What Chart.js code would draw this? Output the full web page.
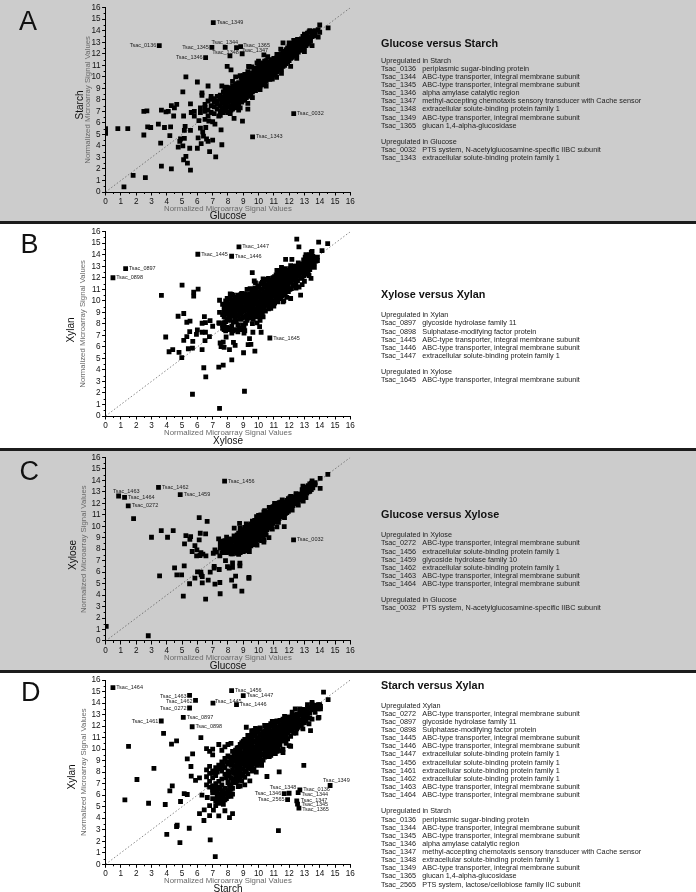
<!DOCTYPE html>
<html><head><meta charset="utf-8">
<script src="https://cdn.jsdelivr.net/npm/chart.js@4"></script>
<style>
html,body{margin:0;padding:0;background:#1c1c1c;width:696px;height:892px;overflow:hidden;font-family:"Liberation Sans",Arial,sans-serif}
.panel{position:absolute;left:0;width:696px}
.panel canvas{position:absolute;left:0;top:0;filter:blur(.35px)}
.t{position:absolute;white-space:nowrap;color:#222}
.letter{position:absolute;font-size:27px;line-height:27px;color:#111}
.big{position:absolute;font-size:10px;line-height:10px;color:#111;white-space:nowrap;transform:translate(-50%,-50%)}
.rot{transform:translate(-50%,-50%) rotate(-90deg)}
.head{font-size:10.8px;font-weight:bold;color:#111;line-height:12px}
.row{font-size:7.25px;line-height:8px}
</style></head><body>
<script>
/* ---------- gene-labelled points ---------- */
const genesA=["Tsac_1349","Tsac_0136","Tsac_1345","Tsac_1344","Tsac_1365","Tsac_1347","Tsac_1348","Tsac_1346","Tsac_0032","Tsac_1343"];
const geneXA=[7.04,3.51,6.95,7.82,8.83,8.93,8.13,6.54,12.3,9.61];
const geneYA=[14.7,12.7,12.56,12.56,12.62,12.0,11.81,11.66,6.81,4.78];
const genesB=["Tsac_1447","Tsac_1445","Tsac_1446","Tsac_0897","Tsac_0898","Tsac_1645"];
const geneXB=[8.72,6.03,8.24,1.31,0.48,10.74];
const geneYB=[14.68,14.04,13.87,12.79,12.0,6.77];
const genesC=["Tsac_1456","Tsac_1462","Tsac_1459","Tsac_1463","Tsac_1464","Tsac_0272","Tsac_0032"];
const geneXC=[7.78,3.46,4.88,0.85,1.24,1.48,12.29];
const geneYC=[13.94,13.39,12.75,12.64,12.52,11.77,8.81];
const genesD=["Tsac_1464","Tsac_1456","Tsac_1447","Tsac_1463","Tsac_1462","Tsac_1445","Tsac_1446","Tsac_0272","Tsac_0897","Tsac_1461","Tsac_0898","Tsac_1349","Tsac_0136","Tsac_1348","Tsac_1346","Tsac_1344","Tsac_2565","Tsac_1347","Tsac_1345","Tsac_1365"];
const geneXD=[0.48,8.24,9.0,5.49,5.88,7.02,8.56,5.49,5.08,3.64,5.66,14.68,12.7,12.0,11.68,12.59,11.9,12.5,12.55,12.64];
const geneYD=[15.33,15.07,14.64,14.67,14.23,14.0,13.86,13.57,12.75,12.44,11.94,6.84,6.46,6.17,6.14,6.23,5.62,5.5,5.22,4.87];

/* ---------- scattered points [x,y] ---------- */
const scatterA=[[0,5.5],[0,5.1],[.8,5.5],[1.45,5.5],[2.5,4.95],[2.5,7],[2.7,7.05],[2.75,5.65],[2.95,5.6],[3.45,5.9],[3.6,4.25],[3.65,7.1],[3.65,2.25],[3.85,5.6],[3.95,6.95],[4.1,7],[4.2,4.9],[4.25,5.65],[4.3,2],[4.3,7.5],[4.45,6.6],[4.5,7.3],[4.65,7.6],[4.75,3.9],[4.85,4.4],[4.9,4.6],[5.05,4],[5.05,8.7],[5.1,6.6],[5.1,2.8],[5.15,5.35],[5.15,4.65],[5.2,5.7],[5.25,10],[5.25,3.1],[5.35,2.5],[5.5,3.8],[5.55,1.9],[5.55,5.35],[5.55,7.65],[1.2,.45],[1.8,1.45],[2.6,1.25],[5.6,6.9],[5.8,6.6],[5.8,7],[6,3.8],[6.05,4.7],[6,9.55],[6.1,6.2],[6.2,5.55],[6.25,4.2],[6.3,8.6],[6.3,8.4],[6.35,5.2],[6.4,4.85],[6.5,6.3],[6.55,5.6],[6.6,4.6],[6.7,4.4],[6.7,9.2],[6.8,3.5],[6.75,6.15],[7,6.1],[7,4.5],[7.15,5.9],[7.2,3.05],[7.6,4.1],[7.55,5.4],[7.4,6.6],[7.6,9.2],[7.95,10.9],[8.2,10.6],[8.5,10],[8.8,10.1],[8.56,12.54],[8.95,6.15],[9.3,7.2],[9.35,10.9],[9.9,11.2],[10.35,11.9],[11.6,12.95],[12.1,10.9],[12.3,13.15],[13.5,12.7],[14.55,14.25],[8.4,6.4],[8.15,6.8]];
const bandA=[[6.2,6.9,7.3],[6.5,7,7.35,7.6],[6.7,6.6,7.1,7.9],[6.9,6.9,7.5,8.05,8.3],[7.1,6.8,7.4,7.8,8.1],[7.3,7.2,7.6,8.3,7.9],[7.5,6.65,7,7.5,8.05,8.4],[7.7,6.9,7.3,7.7,8.2,8.7],[7.9,7.2,7.6,8,8.45,8.8,9.1],[8.1,7.4,7.9,8.3,8.7,9],[8.3,7.2,7.6,8,8.4,8.8,9.2],[8.5,7.3,7.7,8.1,8.5,8.9,9.3],[8.7,7.1,7.6,8,8.4,8.8,9.2,9.5],[8.9,7.8,8.2,8.5,8.9,9.3,9.7],[9.1,8,8.4,8.7,9.1,9.5,9.9,10.2],[9.3,7.7,8.3,8.6,9,9.3,9.6,10],[9.5,8.5,8.9,9.2,9.5,9.8,10.1],[9.7,9,9.3,9.6,9.9,10.2,10.5],[9.9,9.1,9.4,9.7,10,10.3,10.6],[10.1,9.2,9.5,9.8,10.1,10.4,10.7,11],[10.3,9.4,9.7,10,10.3,10.6,10.9,11.2],[10.5,9.6,9.9,10.2,10.5,10.8,11.1,11.4],[10.7,9.9,10.2,10.5,10.8,11.1,11.3],[10.9,9.8,10.4,10.7,11,11.3,11.5],[11.1,10.2,10.6,10.9,11.2,11.5],[11.3,10.6,10.9,11.2,11.5,11.8],[11.5,10.7,11.1,11.4,11.7,12],[11.7,11,11.3,11.6,11.9,12.2],[11.9,11.3,11.6,11.9,12.2,12.5],[12.1,11.6,11.9,12.2,12.5],[12.3,11.8,12.1,12.4],[12.5,12,12.3,12.6],[12.7,12.3,12.6,12.9,13.1],[12.9,12.5,12.8,13.2,13.5],[13.1,12.7,13,13.3,13.6],[13.3,13,13.3,13.9],[13.5,13.5,13.9],[13.7,13.7,14],[13.9,14.1],[14,13.85,14.5]];
const extraA=[[7.6,7.2,7.85,8.25],[7.8,7.05,7.5,8.05,8.5,8.9],[8,6.9,7.4,7.8,8.25,8.6,9.05],[8.2,7.1,7.5,8.15,8.55,8.95],[8.4,7.45,7.85,8.25,8.65,9.05],[8.6,7.5,7.9,8.3,8.7,9.1,9.4],[8.8,7.3,7.85,8.25,8.65,9,9.4],[9,7.95,8.3,8.65,9,9.4,9.8,10.1],[9.2,8.2,8.5,8.85,9.2,9.55,9.95],[9.4,8.4,8.75,9.1,9.45,9.75,10.1],[9.6,8.7,9.05,9.4,9.7,10,10.35],[9.8,8.8,9.15,9.5,9.8,10.1,10.4,10.75],[10,9,9.3,9.6,9.9,10.2,10.5,10.85],[10.2,9.3,9.6,9.95,10.25,10.55,10.85,11.15],[10.4,9.5,9.85,10.15,10.45,10.75,11.05,11.35],[10.6,9.8,10.05,10.35,10.65,10.95,11.25],[10.8,10,10.3,10.6,10.9,11.2,11.45],[11,10.15,10.5,10.8,11.1,11.4,11.6],[11.2,10.4,10.75,11.05,11.35,11.65],[11.4,10.65,11,11.3,11.6,11.9],[11.6,10.9,11.2,11.5,11.8,12.1],[11.8,11.15,11.45,11.75,12.05,12.35],[12,11.4,11.75,12.05,12.35,12.65],[12.2,11.7,12,12.3,12.6,12.9],[12.4,11.95,12.25,12.55,12.8],[12.6,12.15,12.45,12.75,13],[12.8,12.4,12.7,13,13.3],[13,12.6,12.95,13.25,13.55],[13.2,12.85,13.15,13.45,13.8],[13.4,13.1,13.45,13.95],[13.6,13.55,13.85]];
const edgeA=[[8.3,9.6],[8.85,9.95],[9.3,10.45],[9.55,10.85],[10,11.35],[10.6,11.75],[11.2,11.95],[11.45,12.4],[12,12.95],[12.55,13.25],[13,13.7],[13.35,14],[9.6,8.2],[10.1,8.9],[10.5,9.2],[10.74,9.78],[11.18,9.95],[11.5,10.3],[12.5,11.6],[13,12.2],[13.9,13.45],[9.39,10.88]];

const scatterB=[[3.65,10.47],[3.93,6.86],[4.15,5.58],[4.39,5.76],[4.74,8.66],[4.8,5.52],[4.98,5.06],[5,11.37],[5.11,8.9],[5.11,6.57],[5.31,6.89],[5.31,8.14],[5.52,8.23],[5.5,7.33],[5.41,5.84],[5.68,5.9],[5.7,6.48],[5.76,10.76],[5.76,10.41],[6.05,11.02],[5.94,7.09],[6,7.47],[6.31,8.05],[6.31,7.27],[6.31,5.76],[6.46,8.63],[6.53,8.11],[6.53,7.27],[6.5,6.54],[6.83,8.28],[6.79,6.89],[7,7.79],[6.42,4.19],[6.55,3.4],[5.68,1.89],[7.4,4.24],[7.69,4.42],[8.25,4.88],[7.45,.67],[9.08,2.15],[9.02,5.49],[9.76,5.64],[7.4,8.08],[7.49,6.34],[7.69,6.42],[7.55,6.02],[7.75,5.96],[8.1,5.76],[7.88,6.86],[8.36,6.4],[8.47,6.13],[9.32,6.19],[9.5,6.22],[9.41,6.71],[9.6,8.02],[9.9,8.08],[9.63,7.27],[10.17,7.27],[10.07,7.76],[9.59,12.44],[9.72,11.72],[12.5,15.35],[12.64,14.68],[13.93,15.09],[14.52,14.97],[14.15,14.36],[11.77,13.6],[12.18,13.6],[13.43,11.95],[12.75,10.49]];
const bandB=[[7.45,10.05,9,8.05],[7.65,8.8,9.7,7.6,7.9],[7.85,7.4,8.2,8.9,9.4,10],[8.05,7.5,8.6,9.1,9.6,10.2],[8.25,7.2,7.8,8.8,9.3,9.8,10.55],[8.45,7.5,8.5,9,9.5,10,10.3],[8.65,7.3,7.9,8.7,9.2,9.7,10.1,10.5],[8.85,7.5,8.4,8.9,9.3,9.7,10.2,10.55],[9.05,7.2,7.7,8.6,9.1,9.5,9.9,10.3,10.6],[9.25,8.3,8.8,9.2,9.6,10,10.4,11],[9.45,8.7,9,9.4,9.8,10.2,10.6],[9.65,8.4,9.1,9.5,9.9,10.3,10.7,11],[9.85,8.6,9.3,9.7,10.1,10.5,10.9],[10.05,8.6,9,9.5,9.9,10.3,10.7,11.2],[10.25,8.9,9.4,9.8,10.2,10.6,11,11.6],[10.45,9.1,9.6,10,10.4,10.8,11.3,11.85],[10.65,9.3,9.9,10.3,10.7,11.1,11.5],[10.85,9.7,10.2,10.6,11,11.4,11.8],[11.05,9.8,10.4,10.8,11.2,11.6,12.1],[11.25,9.9,10.5,11,11.4,11.8,12.3],[11.45,10.2,10.8,11.2,11.6,12,12.6],[11.65,10,10.9,11.4,11.8,12.2,12.7],[11.85,10.3,11.1,11.5,11.9,12.3],[12.05,11,11.7,12.1,12.5,12.8],[12.25,11.3,11.9,12.3,12.7],[12.45,11.5,12,12.4,12.8,13],[12.65,11.2,12.2,12.6,13.1],[12.85,12,12.5,12.9,13.2],[13.05,12.3,12.8,13.3,13.8],[13.25,12.5,13,13.5],[13.45,13,13.5,14,14.2],[13.65,13.3,13.7],[13.85,13.5,13.8]];
const extraB=[[7.75,7.5,8.1,8.6,9.1,9.5],[7.95,7.7,8.45,9,9.45,9.8,10.2],[8.15,7.6,8.3,8.85,9.35,9.75,10.15],[8.35,7.4,8.15,8.7,9.15,9.6,10.1,10.5],[8.55,8.2,8.75,9.25,9.75,10.2],[8.75,7.6,8.45,8.95,9.45,9.9,10.35],[8.95,7.9,8.5,9.05,9.5,10,10.4],[9.15,8.05,8.65,9.25,9.75,10.2,10.6],[9.35,8.5,9.1,9.6,10.05,10.5],[9.55,8.75,9.25,9.7,10.1,10.55,10.95],[9.75,8.9,9.3,9.75,10.2,10.6,11.1],[9.95,8.85,9.4,9.85,10.3,10.8,11.3],[10.15,9.25,9.65,10.1,10.55,11,11.5],[10.35,9.4,9.85,10.3,10.75,11.2,11.6],[10.55,9.65,10.1,10.55,10.95,11.4,11.85],[10.75,9.55,10.1,10.5,10.9,11.3,11.7],[10.95,9.95,10.4,10.8,11.2,11.6,12],[11.15,10.1,10.6,11,11.45,11.85,12.25],[11.35,10.25,10.75,11.2,11.65,12.05,12.5],[11.55,10.45,11,11.45,11.9,12.3,12.75],[11.75,10.55,11.2,11.65,12.05,12.5,12.8],[11.95,10.8,11.4,11.85,12.25,12.65],[12.15,11.05,11.6,12,12.4,12.75],[12.35,11.4,11.85,12.25,12.65,13],[12.55,11.75,12.15,12.55,12.95],[12.75,11.95,12.4,12.8,13.15],[12.95,12.2,12.65,13.05,13.55],[13.15,12.4,12.85,13.3,13.7],[13.35,12.7,13.2,13.7,14],[13.55,13.15,13.55,13.85],[13.75,13.45,13.65]];
const edgeB=[[8.15,10.6],[8.9,10.65],[9.45,11.05],[9.8,11.55],[10.3,11.9],[10.65,11.95],[11.2,12.65],[11.5,12.9],[12.1,13.05],[12.6,13.3],[13.1,14],[13.5,14.3],[9.1,7.4],[10.1,8.3],[10.3,8.6],[10.8,9.35],[11,9.55],[11.6,9.9],[12.1,10.2],[12.45,11.1],[13,11.7],[13.3,12.2],[12.85,11.4],[13.65,12.9]];

const scatterC=[[.04,1.27],[2.79,.46],[1.83,10.67],[3,9.04],[3.64,9.62],[4.05,9.04],[4.42,9.62],[5.25,9.19],[5.56,9.1],[5.51,8.87],[5.16,8.46],[5.84,8.32],[6.12,8.81],[6.19,9.39],[6.54,9.33],[6.12,10.75],[6.64,10.43],[5.66,7.8],[5.97,7.94],[5.95,7.42],[6.17,7.45],[6.23,7.71],[6.36,7.57],[6.56,7.42],[3.53,5.68],[4.51,6.38],[4.66,5.77],[4.97,5.77],[5.14,6.55],[5.08,3.91],[5.49,4.99],[5.84,5.48],[6.01,6.03],[6.23,6],[6.25,5.77],[6.32,5.62],[6.32,5.07],[6.54,3.65],[6.71,5.3],[6.84,6],[7.1,6.35],[7.1,6.5],[7.15,4.96],[7.43,6.23],[7.47,5.1],[7.49,4.12],[8.24,5.3],[8.45,4.78],[8.5,5.65],[8.91,4.35],[9.37,5.45],[9.37,5.55],[7.97,6.49],[8.08,6.35],[8.3,6.81],[8.3,6.43],[8.78,6.78],[8.78,6.55],[7.84,7.01],[7.04,7.65],[7.25,7.74],[7.15,7.94],[7.47,7.42],[7.39,8.9],[7.91,9.04],[8.24,8.84],[8.41,9.83],[8.76,10.26],[9.87,10.84],[11.68,9.97],[11.2,9.94],[10.68,9.01],[10.35,8.61],[10.35,8.81],[10.3,9.19],[12.92,12.2],[14.03,13.3],[14.03,14.17],[14.53,14.52]];
const bandC=[[7.5,8.5,8.1],[7.7,7.9,8.3,8.6],[7.9,7.7,8,8.4],[8.1,7.75,8.05,8.5,8.9],[8.3,7.6,7.95,8.3],[8.5,7.8,8.2,8.6,9.05],[8.7,7.55,7.9,8.3,8.7,9.4],[8.85,8,8.4,8.8,9.2,9.7],[9,7.8,8.2,8.6,9,9.4],[9.2,7.85,8.3,8.7,9.05,9.45,9.8],[9.4,8.2,8.6,9,9.4,9.8,10.1],[9.55,8.5,8.9,9.25,9.6,10],[9.75,8.4,8.8,9.15,9.5,9.85,10.2,10.5],[9.95,8.8,9.2,9.55,9.9,10.25,10.6],[10.15,9.3,9.65,10,10.35,10.7,11],[10.35,9.5,9.85,10.2,10.55,10.9,11.25],[10.55,9.7,10.05,10.4,10.75,11.05],[10.75,10,10.3,10.65,11,11.4],[10.95,10.25,10.6,10.95,11.3,11.7],[11.15,10.6,10.9,11.25,11.55,11.9],[11.35,10.7,11.05,11.4,11.75,12.05],[11.55,10.9,11.25,11.6,11.9,12.1],[11.75,11.1,11.45,11.8,12.1],[11.95,11.3,11.65,12,12.4],[12.15,11.7,12.05,12.4],[12.35,11.95,12.25,12.55],[12.55,12.15,12.5,12.75],[12.75,12.35,12.6],[12.95,12.7,13,13.3],[13.15,12.9,13.2,13.4],[13.35,13.05,13.3,13.7],[13.55,13.35,13.7],[13.7,13.6,13.8]];
const extraC=[[7.6,7.7,8.25,8.7],[7.8,7.75,8.2,8.75],[8,7.85,8.25,8.65],[8.2,7.6,8.1,8.6],[8.4,7.9,8.3,8.75,9.15],[8.6,7.65,8.05,8.45,8.85,9.25],[8.8,7.7,8.1,8.5,8.95,9.5],[8.95,7.9,8.35,8.75,9.15,9.55],[9.1,7.9,8.3,8.7,9.1,9.5,9.9],[9.3,8.1,8.5,8.9,9.3,9.7,10],[9.5,8.3,8.7,9.1,9.5,9.9,10.2],[9.65,8.45,8.85,9.25,9.65,10.05,10.35],[9.85,8.6,9,9.35,9.7,10.05,10.4],[10.05,9,9.4,9.75,10.1,10.45,10.8],[10.25,9.15,9.55,9.9,10.25,10.6,10.95],[10.45,9.6,9.95,10.3,10.65,11,11.2],[10.65,9.85,10.2,10.55,10.85,11.2],[10.85,10.1,10.45,10.8,11.15,11.55],[11.05,10.4,10.75,11.1,11.45,11.8],[11.25,10.65,11,11.35,11.65,11.95],[11.45,10.85,11.15,11.5,11.85,12.1],[11.65,11,11.35,11.7,12],[11.85,11.2,11.55,11.9,12.25],[12.05,11.45,11.8,12.15,12.5],[12.25,11.8,12.15,12.45],[12.45,12.05,12.35,12.65],[12.65,12.25,12.55,12.8],[12.85,12.5,12.85,13.2],[13.05,12.8,13.1,13.35],[13.25,13,13.25,13.55],[13.45,13.2,13.5,13.75]];
const edgeC=[[8.8,9.85],[9.2,10.2],[9.6,10.45],[10,10.95],[10.4,11.35],[10.7,11.65],[11.05,12],[11.55,12.3],[12.1,12.6],[12.45,12.85],[12.9,13.5],[13.5,13.95],[9.4,7.8],[9.9,8.35],[10.2,8.75],[10.5,9.25],[10.9,9.75],[11.3,10.35],[11.7,10.75],[12.2,11.4],[12.6,11.85],[13.1,12.5]];

const scatterD=[[1.5,10.23],[1.26,5.6],[2.05,7.36],[2.81,5.3],[3.16,8.32],[3.79,11.36],[4.31,10.43],[4.64,10.72],[3.9,5.19],[4.2,6.38],[4.36,6.81],[4,2.6],[4.68,3.39],[4.64,3.28],[4.86,1.88],[5.47,3.13],[4.9,5.45],[5.14,6.14],[5.34,6.06],[5.34,9.16],[5.58,8.49],[5.69,9.59],[6.23,10.99],[5.6,7.65],[5.88,7.28],[6.14,7.5],[6.3,6],[6.45,4.72],[6.43,3.8],[6.14,4.4],[6.8,4.23],[6.84,2.12],[7.17,.67],[11.3,2.93],[12.96,8.58],[11.35,8.03],[10.55,7.62],[9.85,8],[9.1,6.9],[9.43,7.25],[8.67,6.75],[6.65,5.8],[6.8,5.1],[7.05,4.7],[7.4,4.2],[7.8,4.65],[8.1,4.05],[8.3,4.4],[14.25,14.95],[14.55,14.3],[13.4,11.6],[9.2,11.9]];
const bandD=[[6.6,10.05,8.2,7.6,6.9],[6.8,9.8,8.5,7.9,7.2,6.7],[7,9.5,10,8.1,7.5,6.6,6.2,5.7],[7.2,8.4,7.7,7,6.4,5.5,5.1],[7.4,10.4,8.6,7.2,6.7,6.1,5.7,5.3],[7.6,9.9,8.9,8.1,7.4,6.9,6.4,5.9,5.4],[7.8,10.2,9.2,8.4,7.8,6.6,6.1,5.6],[8,10.4,9.4,8.7,8.1,7.7,7.1,6.4,5.9],[8.2,10.5,9.1,8.6,8,7.5,6.9,6.5,5.9],[8.4,9.6,9.1,8.5,7.9,7.4],[8.6,10.1,9.7,9.2,8.7,8.2,7.7,7.2],[8.8,10.4,9.9,9.4,9,8.5,8,7.5,6.8],[9,10.7,10.2,9.7,9.3,8.8,8.3,7.8],[9.2,10.5,10.1,9.6,9.1,8.6,8.1],[9.4,11,10.5,10,9.6,9.1,8.7],[9.6,11.4,10.9,10.4,10,9.5,9,8.5],[9.8,11.8,11.2,10.7,10.2,9.8,9.3,8.9],[10,11.7,11,10.6,10.1,9.6,9.2,8.7],[10.2,11.2,10.8,10.4,10,9.5,9],[10.4,11.6,11.1,10.7,10.3,9.8,9.3],[10.6,11.9,11.4,11,10.5,10.1,9.6],[10.8,12.2,11.6,11.2,10.8,10.4,9.9],[11,12.4,11.8,11.4,11,10.5,10.1],[11.2,11.9,11.5,11.2,10.7,10.2,9.8],[11.4,12.5,12,11.7,11.3,10.9,10.4],[11.6,12.6,12.2,11.9,11.5,11,10],[11.8,12.7,12.3,11.9,11.5,11.1,10.5],[12,12.8,12.4,12,11.6,10.3],[12.2,12.9,12.5,12.1,11.7],[12.4,13.5,12.9,12.4,12.1],[12.6,12.8,12.4,11.9],[12.8,13.4,13,12.5,12.1],[13,13.1,12.7,12.3],[13.2,13.6,13.2,12.8],[13.5,13.9,13.4,12.6],[13.7,13.7,13.2],[13.9,13.85,13.5,12.7],[14.05,13.7,13.5]];
const extraD=[[8.5,7.1,7.55,8.05,8.55,9,9.45,9.9],[8.7,7.3,7.75,8.25,8.75,9.25,9.7,10.15],[8.9,7.25,7.7,8.25,8.75,9.15,9.6,10.15,10.55],[9.1,7.55,8.05,8.55,9,9.45,9.9,10.4,10.85],[9.3,7.85,8.35,8.85,9.35,9.85,10.3,10.75],[9.5,8.3,8.8,9.3,9.8,10.25,10.7,11.2],[9.7,8.25,8.75,9.25,9.7,10.15,10.65,11.15,11.6],[9.9,8.6,9.05,9.5,9.95,10.45,10.95,11.45],[10.1,8.85,9.4,9.85,10.35,10.8,11.3,11.75],[10.3,9.05,9.55,10.05,10.55,11,11.45],[10.5,9.45,9.95,10.35,10.8,11.25,11.7],[10.7,9.35,9.8,10.25,10.7,11.15,11.65,12.05],[10.9,9.6,10.1,10.6,11.1,11.55,12],[11.1,9.85,10.3,10.75,11.25,11.7,12.2],[11.3,10,10.5,10.95,11.45,11.85,12.35],[11.5,9.85,10.7,11.2,11.65,12.1,12.5],[11.7,10.75,11.2,11.7,12.1,12.55],[11.9,10.9,11.4,11.75,12.1,12.5,12.75],[12.1,11.1,11.55,11.95,12.3,12.7],[12.3,11.4,11.85,12.25,12.6,12.95],[12.5,11.75,12.2,12.65,13.05],[12.7,12.05,12.55,13,13.35],[12.9,12.25,12.65,13.05,13.45],[13.1,12.45,12.9,13.35],[13.35,12.7,13.15,13.55],[13.65,13.45,13.8],[7,7.9,6.8,6.45],[7.3,8,6.7,6.2,5.8,5.4],[7.5,8.3,6.5,6,5.6],[7.7,8.5,6.3,5.8,5.2],[7.9,8.9,7.5,6.2,5.7],[8.1,9.3,8.9,7.8,6.7,6.2],[8.3,9.8,9.3,8.8,8.2,7.1,6.6,6.1]];
const edgeD=[[9.3,11.2],[9.55,11.6],[10.1,11.85],[10.4,12.05],[10.9,12.4],[11.2,12.45],[11.7,12.85],[12.2,13.2],[12.7,13.5],[13.2,13.85],[13.5,14.05],[9.6,8.1],[10.2,8.6],[10.8,9.45],[11.1,9.6],[11.6,9.7],[12.1,10.25],[12.45,11.4],[12.9,11.75],[13.3,12.2],[14,13.85],[13.95,12.75]];

const diagonal=[{x:0,y:0},{x:16,y:16}];
const axisTicks=[0,1,2,3,4,5,6,7,8,9,10,11,12,13,14,15,16];
const normalizedTitle="Normalized Microarray Signal Values";

/* ---------- side text ---------- */
const sideA=["Glucose versus Starch",[["Upregulated in Starch"],["Tsac_0136","periplasmic sugar-binding protein"],["Tsac_1344","ABC-type transporter, integral membrane subunit"],["Tsac_1345","ABC-type transporter, integral membrane subunit"],["Tsac_1346","alpha amylase catalytic region"],["Tsac_1347","methyl-accepting chemotaxis sensory transducer with Cache sensor"],["Tsac_1348","extracellular solute-binding protein family 1"],["Tsac_1349","ABC-type transporter, integral membrane subunit"],["Tsac_1365","glucan 1,4-alpha-glucosidase"],[],["Upregulated in Glucose"],["Tsac_0032","PTS system, N-acetylglucosamine-specific IIBC subunit"],["Tsac_1343","extracellular solute-binding protein family 1"]]];
const sideB=["Xylose versus Xylan",[["Upregulated in Xylan"],["Tsac_0897","glycoside hydrolase family 11"],["Tsac_0898","Sulphatase-modifying factor protein"],["Tsac_1445","ABC-type transporter, integral membrane subunit"],["Tsac_1446","ABC-type transporter, integral membrane subunit"],["Tsac_1447","extracellular solute-binding protein family 1"],[],["Upregulated in Xylose"],["Tsac_1645","ABC-type transporter, integral membrane subunit"]]];
const sideC=["Glucose versus Xylose",[["Upregulated in Xylose"],["Tsac_0272","ABC-type transporter, integral membrane subunit"],["Tsac_1456","extracellular solute-binding protein family 1"],["Tsac_1459","glycoside hydrolase family 10"],["Tsac_1462","extracellular solute-binding protein family 1"],["Tsac_1463","ABC-type transporter, integral membrane subunit"],["Tsac_1464","ABC-type transporter, integral membrane subunit"],[],["Upregulated in Glucose"],["Tsac_0032","PTS system, N-acetylglucosamine-specific IIBC subunit"]]];
const sideD=["Starch versus Xylan",[["Upregulated Xylan"],["Tsac_0272","ABC-type transporter, integral membrane subunit"],["Tsac_0897","glycoside hydrolase family 11"],["Tsac_0898","Sulphatase-modifying factor protein"],["Tsac_1445","ABC-type transporter, integral membrane subunit"],["Tsac_1446","ABC-type transporter, integral membrane subunit"],["Tsac_1447","extracellular solute-binding protein family 1"],["Tsac_1456","extracellular solute-binding protein family 1"],["Tsac_1461","extracellular solute-binding protein family 1"],["Tsac_1462","extracellular solute-binding protein family 1"],["Tsac_1463","ABC-type transporter, integral membrane subunit"],["Tsac_1464","ABC-type transporter, integral membrane subunit"],[],["Upregulated in Starch"],["Tsac_0136","periplasmic sugar-binding protein"],["Tsac_1344","ABC-type transporter, integral membrane subunit"],["Tsac_1345","ABC-type transporter, integral membrane subunit"],["Tsac_1346","alpha amylase catalytic region"],["Tsac_1347","methyl-accepting chemotaxis sensory transducer with Cache sensor"],["Tsac_1348","extracellular solute-binding protein family 1"],["Tsac_1349","ABC-type transporter, integral membrane subunit"],["Tsac_1365","glucan 1,4-alpha-glucosidase"],["Tsac_2565","PTS system, lactose/cellobiose family IIC subunit"]]];

/* ---------- label placement (style only): [align, dx, dy] in px ---------- */
const R=[ 'left',3.4,0], L=['right',-3,0];
const placeA=[R,L,L,['left',-13.7,-5.3],['left',2.7,-1.3],['left',-.7,-3.3],['left',-17.7,-3.3],L,R,R];
const placeB=[R,R,R,R,R,R];
const placeC=[R,R,R,['left',-5.7,-4.3],R,R,R];
const placeD=[R,R,R,['right',-3,1],['right',-3,.7],['left',2,-2],R,L,R,L,R,['left',-7,-5],R,['left',-19.3,-5.3],L,['left',3.4,2],L,['left',4,-.7],['left',4,.7],['left',3.4,1.7]];

/* ---------- panel layout (style only) ---------- */
const panels=[
 {id:'A',top:0,h:221,bg:'#cccccc',y16:7.7,y0:192,xT:209,yTx:87.7,yTy:106.7,xName:'Glucose',yName:'Starch',nameX:80,nameY:105,xNameY:216.3,letter:[19,8],sideTop:43.3,rowTop:60.7,genes:[genesA,geneXA,geneYA,placeA],scatter:[...scatterA,...edgeA],bands:[bandA,extraA],side:sideA},
 {id:'B',top:224,h:224,bg:'#ffffff',y16:231.7,y0:416,xT:433,yTx:83.3,yTy:330,xName:'Xylose',yName:'Xylan',nameX:71.3,nameY:330,xNameY:440.7,letter:[20.5,230.5],sideTop:294,rowTop:315.3,genes:[genesB,geneXB,geneYB,placeB],scatter:[...scatterB,...edgeB],bands:[bandB,extraB],side:sideB},
 {id:'C',top:451,h:219,bg:'#cccccc',y16:457,y0:641,xT:658,yTx:84,yTy:554.7,xName:'Glucose',yName:'Xylose',nameX:72.7,nameY:555,xNameY:665.7,letter:[19.5,458],sideTop:514.3,rowTop:535.3,genes:[genesC,geneXC,geneYC,placeC],scatter:[...scatterC,...edgeC],bands:[bandC,extraC],side:sideC},
 {id:'D',top:673,h:219,bg:'#ffffff',y16:680,y0:864.3,xT:881.3,yTx:84,yTy:778,xName:'Starch',yName:'Xylan',nameX:72.3,nameY:777,xNameY:888.7,letter:[21,679],sideTop:684.7,rowTop:705.7,genes:[genesD,geneXD,geneYD,placeD],scatter:[...scatterD,...edgeD],bands:[bandD,extraD],side:sideD}
];
const AX_LEFT=105.6, AX_RIGHT=350.3, FONT='"Liberation Sans", Arial, sans-serif';

const flattenBand=b=>b.flatMap(c=>c.slice(1).map(y=>({x:c[0],y})));
const minorTicks={id:'minorTicks',afterDraw(c){const g=c.ctx,{x,y}=c.scales;g.save();g.strokeStyle='#000';g.lineWidth=1;g.beginPath();
  for(let i=0;i<16;i++){const px=Math.round(x.getPixelForValue(i+.5))+.5,py=Math.round(y.getPixelForValue(i+.5))+.5;
    g.moveTo(px,c.chartArea.bottom);g.lineTo(px,c.chartArea.bottom+2);g.moveTo(c.chartArea.left,py);g.lineTo(c.chartArea.left-2,py);}
  g.stroke();g.restore();}};
const geneLabels={id:'geneLabels',afterDatasetsDraw(c,a,o){const g=c.ctx,{x,y}=c.scales,[n,xs,ys,pl]=o.genes;g.save();g.font='5.5px '+FONT;g.fillStyle='#222';g.textBaseline='middle';
  n.forEach((t,i)=>{g.textAlign=pl[i][0];g.fillText(t,x.getPixelForValue(xs[i])+pl[i][1],y.getPixelForValue(ys[i])+pl[i][2]);});g.restore();}};

panels.forEach(p=>{
  const d=document.createElement('div');d.className='panel';d.style.top=p.top+'px';d.style.height=p.h+'px';d.style.background=p.bg;document.body.appendChild(d);
  const cv=document.createElement('canvas');cv.width=696;cv.height=p.h;cv.style.width='696px';cv.style.height=p.h+'px';d.appendChild(cv);
  const addText=(cls,txt,css)=>{const e=document.createElement('div');e.className=cls;e.textContent=txt;Object.assign(e.style,css);d.appendChild(e);return e;};
  addText('letter',p.id,{left:p.letter[0]+'px',top:(p.letter[1]-p.top)+'px'});
  addText('big',p.xName,{left:'228px',top:(p.xNameY-p.top)+'px'});
  addText('big rot',p.yName,{left:p.nameX+'px',top:(p.nameY-p.top)+'px'});
  addText('t head',p.side[0],{left:'381px',top:(p.sideTop-p.top-6)+'px'});
  p.side[1].forEach((r,i)=>{const ty=(p.rowTop+i*8.13-p.top-4)+'px';
    if(r[0])addText('t row',r[0],{left:'381px',top:ty});
    if(r[1])addText('t row',r[1],{left:'422.3px',top:ty});});
  const fh=7.8, titleColor='#6a6a6a';
  const yW=AX_LEFT-(p.yTx-fh/2), xH=(p.xT-p.y0)+fh/2;
  const pts=[...p.genes[1].map((x,i)=>({x,y:p.genes[2][i]})),...p.scatter.map(q=>({x:q[0],y:q[1]})),...p.bands.flatMap(flattenBand)];
  const common={min:0,max:16,border:{display:true,color:'#000',width:1},
    grid:{display:true,drawOnChartArea:false,drawTicks:true,tickLength:3.5,color:'#000',lineWidth:1},
    afterBuildTicks(s){s.ticks=axisTicks.map(v=>({value:v}));},
    ticks:{autoSkip:false,maxRotation:0,minRotation:0,padding:1.5,color:'#111',font:{family:FONT,size:8.2},callback:v=>String(v)}};
  new Chart(cv,{type:'scatter',
    data:{datasets:[
      {data:pts,pointStyle:'rect',pointRadius:3.4,pointBackgroundColor:'#000',pointBorderWidth:0,pointHoverRadius:3.4,showLine:false},
      {data:diagonal,showLine:true,pointRadius:0,borderColor:'#555',borderWidth:.7,borderDash:[1.5,2]}
    ]},
    options:{responsive:false,animation:false,events:[],
      layout:{padding:{left:AX_LEFT-yW,top:p.y16-p.top,right:696-AX_RIGHT,bottom:p.h-(p.y0-p.top)-xH}},
      plugins:{legend:{display:false},tooltip:{enabled:false},geneLabels:{genes:p.genes}},
      scales:{
        x:{...common,type:'linear',position:'bottom',afterFit(s){s.height=xH;},
           title:{display:true,text:normalizedTitle,color:titleColor,padding:0,font:{family:FONT,size:7.8,lineHeight:1}}},
        y:{...common,type:'linear',position:'left',afterFit(s){s.width=yW;},
           title:{display:true,text:normalizedTitle,color:titleColor,padding:0,font:{family:FONT,size:7.8,lineHeight:1}}}
      }},
    plugins:[minorTicks,geneLabels]});
});
</script>
</body></html>
